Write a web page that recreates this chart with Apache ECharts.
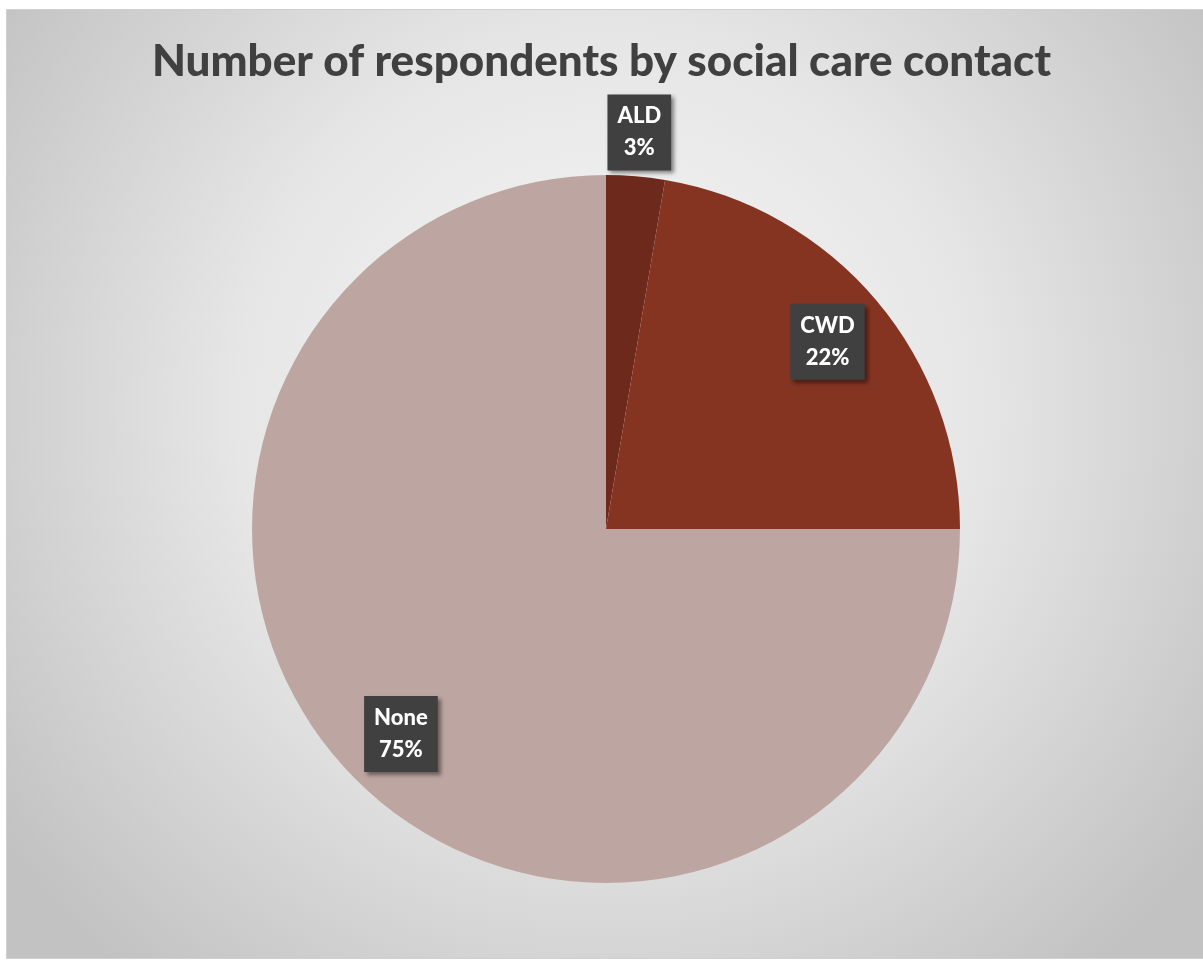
<!DOCTYPE html>
<html>
<head>
<meta charset="utf-8">
<script src="https://cdn.jsdelivr.net/npm/echarts@6/dist/echarts.min.js"></script>
<style>
  html, body { margin: 0; padding: 0; background: #ffffff; }
  #chart { width: 1203px; height: 961px; }
</style>
</head>
<body>
<div id="chart"></div>
<script>
// Respondent counts by social care contact
const categories = ['ALD', 'CWD', 'None'];
const respondents = [8, 67, 225];
const sliceColors = ['#6d2a1c', '#853422', '#bda6a1'];
const titleText = 'Number of respondents by social care contact';

const CX = 606, CY = 529, R = 354;

const chart = echarts.init(document.getElementById('chart'), null, { renderer: 'canvas' });

const pieData = categories.map((name, i) => ({
  name: name,
  value: respondents[i],
  itemStyle: { color: sliceColors[i] }
}));

const labelBox = {
  show: true,
  position: 'inside',
  formatter: '{b}\n{d}%',
  color: '#ffffff',
  fontFamily: 'Lato',
  fontWeight: 900,
  fontSize: 22,
  lineHeight: 32,
  backgroundColor: '#404040',
  padding: [6, 10, 6, 10],
  shadowColor: 'rgba(0,0,0,0.45)',
  shadowBlur: 4,
  shadowOffsetX: 3,
  shadowOffsetY: 3
};

// transparent helper pie used only to place the data labels at a chosen radius
function labelPie(radius, shownNames) {
  return {
    type: 'pie',
    center: [CX, CY],
    radius: [0, radius],
    percentPrecision: 0,
    silent: true,
    z: 5,
    itemStyle: { color: 'rgba(0,0,0,0)' },
    labelLine: { show: false },
    emphasis: { disabled: true },
    data: categories.map((name, i) => ({
      name: name,
      value: respondents[i],
      label: Object.assign({}, labelBox, { show: shownNames.indexOf(name) >= 0 })
    }))
  };
}

chart.setOption({
  animation: false,
  graphic: [{
    type: 'rect',
    z: -10,
    shape: { x: 6.5, y: 9.5, width: 1200, height: 949 },
    style: {
      fill: {
        type: 'radial', x: 0.5, y: 0.42, r: 0.78,
        colorStops: [
          { offset: 0, color: '#f8f8f8' },
          { offset: 0.5, color: '#e6e6e6' },
          { offset: 1, color: '#c2c2c2' }
        ]
      },
      stroke: '#d0d0d0',
      lineWidth: 1
    }
  }],
  title: {
    text: titleText,
    left: 'center',
    top: 35,
    textStyle: {
      fontFamily: 'Lato',
      fontWeight: 900,
      fontSize: 44,
      color: '#404040'
    }
  },
  series: [
    {
      type: 'pie',
      center: [CX, CY],
      radius: [0, R],
      startAngle: 90,
      clockwise: true,
      silent: true,
      label: { show: false },
      labelLine: { show: false },
      emphasis: { disabled: true },
      data: pieData
    },
    labelPie(574, ['CWD', 'None']),
    labelPie(790, ['ALD'])
  ]
});
</script>
</body>
</html>
